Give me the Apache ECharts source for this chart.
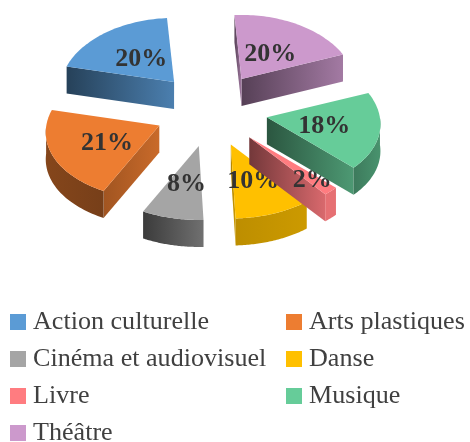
<!DOCTYPE html>
<html>
<head>
<meta charset="utf-8">
<style>
html, body { margin: 0; padding: 0; background: #fff; }
#chart { width: 470px; height: 442px; }
</style>
<script src="https://cdn.jsdelivr.net/npm/echarts@6/dist/echarts.min.js"></script>
</head>
<body>
<div id="chart"></div>
<script>
// data
var categories = ['Action culturelle', 'Arts plastiques', 'Cinéma et audiovisuel', 'Danse', 'Livre', 'Musique', 'Théâtre'];
var values = [20, 21, 8, 10, 2, 18, 20];
var colors = ['#5b9bd5', '#ed7d31', '#a5a5a5', '#ffc000', '#ff7c80', '#66cc99', '#cc99cc'];

// pie geometry
var cx = 211, cy = 110, rx = 113, ryBack = 64, ryFront = 74;
var explodeX = 57, explodeY = 36.8, depth = 27, startAngle = -4, widen = 0.1;

// side shading, left to right
var edgeShade = [[0.42, 0.82], [0.68, 0.85], [0.4, 0.7], [0.7, 0.8], [0.45, 0.85], [0.42, 0.75], [0.42, 0.8]];
var arcShade = [[0.6, 0.6], [0.56, 0.5], [0.36, 0.68], [0.74, 0.8], [0.9, 0.9], [0.6, 0.72], [0.6, 0.6]];

var total = values.reduce(function(a, b) { return a + b; }, 0);

function shade(hex, f) {
	var n = parseInt(hex.slice(1), 16);
	return 'rgb(' + Math.round((n >> 16) * f) + ',' + Math.round(((n >> 8) & 255) * f) + ',' + Math.round((n & 255) * f) + ')';
}

// offset of a rim point from the slice apex, front of the pie drawn a bit bigger
function rim(deg) {
	var a = deg * Math.PI / 180, c = Math.cos(a);
	var ry = (ryBack + ryFront) / 2 - (ryFront - ryBack) / 2 * c;
	return [rx * (1 - widen * c) * Math.sin(a), -ry * c];
}

function sideGradient(pts, color, range) {
	var xs = pts.map(function(p) { return p[0]; });
	return {
		type: 'linear', global: true,
		x: Math.min.apply(null, xs), y: 0, x2: Math.max.apply(null, xs), y2: 0,
		colorStops: [
			{ offset: 0, color: shade(color, range[0]) },
			{ offset: 1, color: shade(color, range[1]) }
		]
	};
}

function renderSlice(i) {
	return function(params, api) {
		var before = 0;
		for (var k = 0; k < i; k++) before += values[k];
		// slices run counterclockwise
		var t1 = startAngle - before / total * 360;
		var t2 = t1 - api.value(0) / total * 360;
		var mid = (t1 + t2) / 2;
		var m = rim(mid);
		var midRad = mid * Math.PI / 180;
		var apex = [cx + explodeX * Math.sin(midRad), cy - explodeY * Math.cos(midRad)];

		var arc = [], top = [apex], front = [];
		for (var s = 0; s <= 48; s++) {
			var t = t1 + (t2 - t1) * s / 48;
			var r = rim(t);
			var p = [apex[0] + r[0], apex[1] + r[1]];
			arc.push(p);
			top.push(p);
			if (Math.cos(t * Math.PI / 180) < 0) front.push(p);
		}

		var children = [];
		var midPt = [apex[0] + m[0], apex[1] + m[1]];
		// radial faces
		[arc[0], arc[arc.length - 1]].forEach(function(end) {
			var ex = end[0] - apex[0], ey = end[1] - apex[1];
			var inner = ex * (midPt[1] - apex[1]) - ey * (midPt[0] - apex[0]);
			if (inner * ex >= 0) return; // faces away
			var quad = [apex, end, [end[0], end[1] + depth], [apex[0], apex[1] + depth]];
			children.push({ type: 'polygon', shape: { points: quad },
				style: { fill: sideGradient(quad, colors[i], edgeShade[i]) } });
		});
		// rim face
		if (front.length > 1) {
			var band = front.concat(front.slice().reverse().map(function(p) { return [p[0], p[1] + depth]; }));
			children.push({ type: 'polygon', shape: { points: band },
				style: { fill: sideGradient(band, colors[i], arcShade[i]) } });
		}
		// top face
		children.push({ type: 'polygon', shape: { points: top }, style: { fill: colors[i] } });
		// percent label, thin slices push it outward
		var f = values[i] < 5 ? 0.76 : 0.5;
		children.push({
			type: 'text', z2: 100,
			x: apex[0] + m[0] * f + 1, y: apex[1] + m[1] * f + 2.5,
			style: {
				text: values[i] + '%', fill: '#333333', align: 'center', verticalAlign: 'middle',
				font: 'bold 26px "Liberation Serif"'
			}
		});
		return { type: 'group', children: children };
	};
}

function showPie() {
	var chart = echarts.init(document.getElementById('chart'), null, { renderer: 'canvas' });
	var legendBase = {
		orient: 'vertical', icon: 'rect', itemWidth: 16, itemHeight: 16, itemGap: 11, height: 200,
		padding: 0, selectedMode: false, inactiveColor: '#404040',
		textStyle: { fontFamily: 'Liberation Serif', fontSize: 26.1, color: '#404040', padding: [0, 0, 0, 2] }
	};
	var option = {
		animation: false,
		backgroundColor: '#ffffff',
		legend: [
			Object.assign({}, legendBase, { left: 10, top: 309, data: [categories[0], categories[2], categories[4], categories[6]] }),
			Object.assign({}, legendBase, { left: 286, top: 309, data: [categories[1], categories[3], categories[5]] })
		],
		series: categories.map(function(name, i) {
			return {
				type: 'custom',
				name: name,
				coordinateSystem: 'none',
				silent: true,
				z: 2 + i,
				itemStyle: { color: colors[i] },
				data: [[values[i]]],
				renderItem: renderSlice(i)
			};
		})
	};
	chart.setOption(option);
}

showPie();
</script>
</body>
</html>
